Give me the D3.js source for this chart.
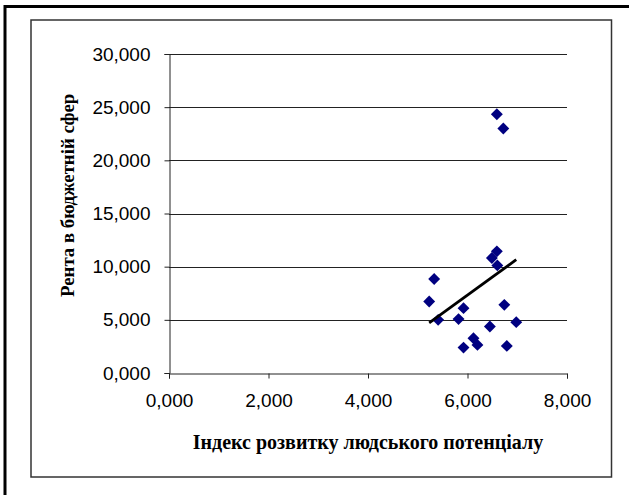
<!DOCTYPE html>
<html>
<head>
<meta charset="utf-8">
<script src="https://cdn.jsdelivr.net/npm/d3@7/dist/d3.min.js"></script>
<style>
  body { margin: 0; background: #fff; }
</style>
</head>
<body>
<svg id="chart"></svg>
<script>
// data (x = index, y = rent)
var indexValues = [6.59, 6.72, 5.33, 5.23, 5.41, 5.92, 5.82, 6.45, 6.74, 6.98, 6.79, 5.92, 6.12, 6.20, 6.59, 6.49, 6.60];
var rentValues = [24.34, 22.99, 8.84, 6.73, 5.00, 6.10, 5.07, 4.37, 6.41, 4.78, 2.55, 2.39, 3.27, 2.64, 11.44, 10.82, 10.12];
var xTicks = [0, 2, 4, 6, 8];
var yTicks = [0, 5, 10, 15, 20, 25, 30];
var xTitle = "Індекс розвитку людського потенціалу";
var yTitle = "Рента в бюджетній сфері";

var width = 629, height = 495;

var svg = d3.select("#chart")
    .attr("width", width)
    .attr("height", height);

// ua style numbers: 30,000
var locale = d3.formatLocale({decimal: ",", thousands: " ", grouping: [3], currency: ["", ""]});
var fmt = locale.format(".3f");

// frames
svg.append("rect").attr("x", 5).attr("y", 6.5).attr("width", 700).attr("height", 600)
    .attr("fill", "none").attr("stroke", "#000").attr("stroke-width", 3);
svg.append("rect").attr("x", 31).attr("y", 20).attr("width", 580.5).attr("height", 457)
    .attr("fill", "#fff").attr("stroke", "#333").attr("stroke-width", 1.5);

var x = d3.scaleLinear().domain([0, 8]).range([169, 567]);
var y = d3.scaleLinear().domain([0, 30]).range([373, 54]);

// gridlines
svg.append("g").selectAll("line")
    .data(yTicks.filter(function(d) { return d > 0; }))
    .enter().append("line")
    .attr("x1", x(0)).attr("x2", x(8))
    .attr("y1", function(d) { return Math.round(y(d)) + 0.5; })
    .attr("y2", function(d) { return Math.round(y(d)) + 0.5; })
    .attr("stroke", "#222").attr("stroke-width", 1);

// y axis
var yAxis = svg.append("g")
    .attr("transform", "translate(" + (x(0) + 0.5) + ",0)")
    .call(d3.axisLeft(y).tickValues(yTicks).tickFormat(fmt).tickSize(5).tickPadding(14));
yAxis.select(".domain").attr("stroke", "#222");
yAxis.selectAll(".tick line").attr("stroke", "#222");
yAxis.selectAll("text")
    .style("font-family", "Liberation Sans, Arial, sans-serif")
    .style("font-size", "19px")
    .attr("fill", "#000");

// x axis
var xAxis = svg.append("g")
    .attr("transform", "translate(0," + (Math.round(y(0)) + 0.5) + ")")
    .call(d3.axisBottom(x).tickValues(xTicks).tickFormat(fmt).tickSize(5).tickPadding(15));
xAxis.select(".domain").attr("stroke", "#222");
xAxis.selectAll(".tick line").attr("stroke", "#222");
xAxis.selectAll("text")
    .style("font-family", "Liberation Sans, Arial, sans-serif")
    .style("font-size", "19px")
    .attr("fill", "#000");

// axis titles
svg.append("text")
    .attr("x", (x(0) + x(8)) / 2)
    .attr("y", 449)
    .attr("text-anchor", "middle")
    .style("font-family", "Liberation Serif, Times New Roman, serif")
    .style("font-weight", "bold")
    .style("font-size", "20px")
    .text(xTitle);

// y title is cut at the top like in the original
svg.append("clipPath").attr("id", "yclip")
    .append("rect").attr("x", 40).attr("y", 94).attr("width", 60).attr("height", 250);
svg.append("g")
    .attr("clip-path", "url(#yclip)")
    .append("text")
    .attr("transform", "translate(74,297) rotate(-90)")
    .style("font-family", "Liberation Serif, Times New Roman, serif")
    .style("font-weight", "bold")
    .style("font-size", "18.8px")
    .text(yTitle);

// points
var points = indexValues.map(function(v, i) { return [v, rentValues[i]]; });
var sym = d3.symbol().type(d3.symbolDiamond2).size(90);

svg.append("g").selectAll("path")
    .data(points)
    .enter().append("path")
    .attr("d", sym)
    .attr("transform", function(d) { return "translate(" + x(d[0]) + "," + y(d[1]) + ")"; })
    .attr("fill", "#000080");

// linear trend (least squares)
var mx = d3.mean(indexValues), my = d3.mean(rentValues);
var sxy = d3.sum(points, function(d) { return (d[0] - mx) * (d[1] - my); });
var sxx = d3.sum(points, function(d) { return (d[0] - mx) * (d[0] - mx); });
var slope = sxy / sxx, icpt = my - slope * mx;
var xExt = d3.extent(indexValues);

svg.append("line")
    .attr("x1", x(xExt[0])).attr("y1", y(icpt + slope * xExt[0]))
    .attr("x2", x(xExt[1])).attr("y2", y(icpt + slope * xExt[1]))
    .attr("stroke", "#000").attr("stroke-width", 2.8);
</script>
</body>
</html>
